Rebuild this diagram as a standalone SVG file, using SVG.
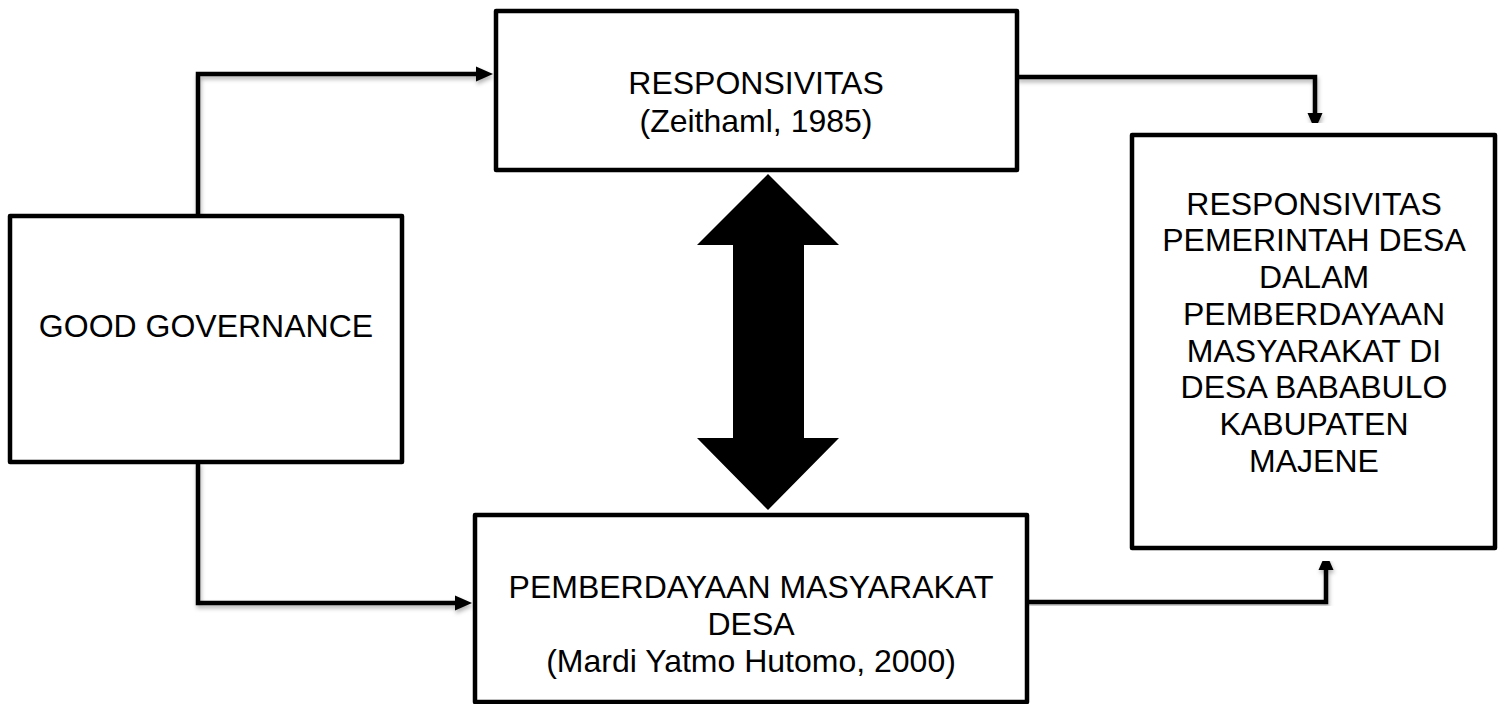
<svg xmlns="http://www.w3.org/2000/svg" width="1505" height="704" viewBox="0 0 1505 704">
<style>
.box{fill:#fff;stroke:#000;stroke-width:4.5;stroke-linejoin:round}
.t{font-family:"Liberation Sans",Arial,sans-serif;font-size:32px;fill:#000;text-anchor:middle}
.conn{fill:none;stroke:#000;stroke-width:4.5;stroke-linejoin:miter;filter:url(#sh)}
</style>
<defs>
<marker id="ah" markerUnits="userSpaceOnUse" markerWidth="18" markerHeight="16" refX="5" refY="7.5" orient="auto" overflow="visible">
<path d="M0,0 L17,7.5 L0,15 z" fill="#000"/>
</marker>
<filter id="sh" x="-10%" y="-10%" width="120%" height="120%">
<feDropShadow dx="1" dy="3" stdDeviation="2" flood-color="#000" flood-opacity="0.3"/>
</filter>
</defs>
<g id="connectors">
<path class="conn" d="M198,216 V74 H481" marker-end="url(#ah)"/>
<path class="conn" d="M1017,77 H1315 V118" marker-end="url(#ah)"/>
<path class="conn" d="M198,462 V603 H460" marker-end="url(#ah)"/>
<path class="conn" d="M1027,602 H1326 V565" marker-end="url(#ah)"/>
<polygon id="double-arrow" points="768,174 839,245 804,245 804,438 839,438 768,510 697,438 733,438 733,245 697,245" fill="#000"/>
</g>
<g id="good-governance">
<rect class="box" x="10" y="216" width="392" height="246"/>
<text class="t" x="206" y="337">GOOD GOVERNANCE</text>
</g>
<g id="responsivitas">
<rect class="box" x="496" y="11" width="521" height="159"/>
<text class="t" x="756" y="94">RESPONSIVITAS</text>
<text class="t" x="756" y="132">(Zeithaml, 1985)</text>
</g>
<g id="pemberdayaan">
<rect class="box" x="475" y="515" width="552" height="187"/>
<text class="t" x="751" y="598">PEMBERDAYAAN MASYARAKAT</text>
<text class="t" x="751" y="635">DESA</text>
<text class="t" x="751" y="672">(Mardi Yatmo Hutomo, 2000)</text>
</g>
<g id="hasil">
<rect class="box" x="1132" y="135" width="363" height="413"/>
<text class="t" x="1314" y="215">RESPONSIVITAS</text>
<text class="t" x="1314" y="251">PEMERINTAH DESA</text>
<text class="t" x="1314" y="288">DALAM</text>
<text class="t" x="1314" y="325">PEMBERDAYAAN</text>
<text class="t" x="1314" y="362">MASYARAKAT DI</text>
<text class="t" x="1314" y="398">DESA BABABULO</text>
<text class="t" x="1314" y="435">KABUPATEN</text>
<text class="t" x="1314" y="472">MAJENE</text>
</g>
</svg>
